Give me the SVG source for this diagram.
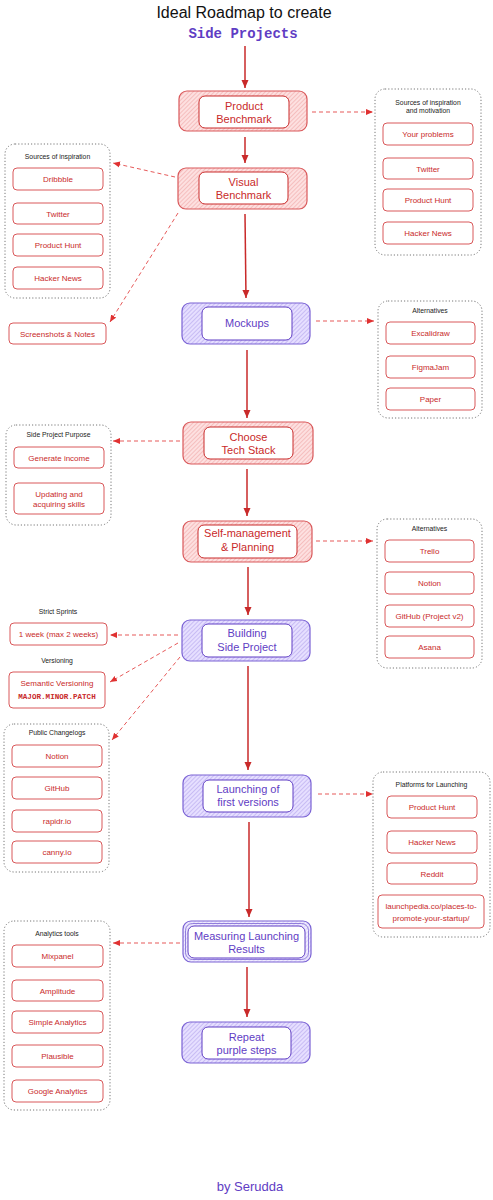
<svg xmlns="http://www.w3.org/2000/svg" width="493" height="1200" viewBox="0 0 493 1200">
<defs>
<pattern id="hatchRed" patternUnits="userSpaceOnUse" width="3" height="3" patternTransform="rotate(45)"><rect width="3" height="3" fill="#fde0e0"/><line x1="0" y1="0" x2="0" y2="3" stroke="#ec9595" stroke-width="0.9"/></pattern>
<pattern id="hatchPurple" patternUnits="userSpaceOnUse" width="3" height="3" patternTransform="rotate(45)"><rect width="3" height="3" fill="#e6dfff"/><line x1="0" y1="0" x2="0" y2="3" stroke="#a593e6" stroke-width="0.9"/></pattern>
<marker id="arr" markerUnits="userSpaceOnUse" markerWidth="9" markerHeight="9" refX="8" refY="4" orient="auto"><path d="M0,0.5 L8,4 L0,7.5 z" fill="#c92a2a"/></marker>
<marker id="arrD" markerUnits="userSpaceOnUse" markerWidth="9" markerHeight="9" refX="7" refY="3.5" orient="auto"><path d="M0,0.5 L7,3.5 L0,6.5 z" fill="#e03131"/></marker>
</defs>
<style>
text{font-family:"Liberation Sans",Arial,sans-serif;text-anchor:middle}
.title{font-size:16px;fill:#111}
.sub{font-family:"Liberation Mono","Courier New",monospace;font-size:14px;fill:#5f3dc4;font-weight:bold}
.ored{fill:url(#hatchRed);stroke:#d9585a;stroke-width:1.2}
.opur{fill:url(#hatchPurple);stroke:#7a62d4;stroke-width:1.2}
.ired{fill:#fff;stroke:#c92a2a;stroke-width:1}
.ipur{fill:#fff;stroke:#5f3dc4;stroke-width:1}
.nt{font-size:11px}
.r{fill:#c92a2a}
.p{fill:#5f3dc4}
.grp{fill:#fff;stroke:#777;stroke-width:1;stroke-dasharray:1.2 2}
.gt{font-size:6.8px;fill:#222}
.item{fill:#fff;stroke:#d9585a;stroke-width:1}
.it{font-size:8px;fill:#c92a2a}
.mono{font-family:"Liberation Mono","Courier New",monospace;font-size:7.6px;fill:#c92a2a;font-weight:bold}
.solid{stroke:#c92a2a;stroke-width:1.5;fill:none}
.dash{stroke:#e03131;stroke-opacity:0.8;stroke-width:1;stroke-dasharray:4 3;fill:none}
</style>
<rect width="493" height="1200" fill="#fff"/>
<g id="title">
<text class="title" x="244" y="18">Ideal Roadmap to create</text>
<text class="sub" x="243" y="38">Side Projects</text>
</g>
<g id="connectors">
<path class="solid" d="M245,46 L245,88" marker-end="url(#arr)"/>
<path class="solid" d="M245,137 L245,163" marker-end="url(#arr)"/>
<path class="solid" d="M245,214 L246,298" marker-end="url(#arr)"/>
<path class="solid" d="M247,350 L247,418" marker-end="url(#arr)"/>
<path class="solid" d="M247,469 L247,516" marker-end="url(#arr)"/>
<path class="solid" d="M248,567 L248,615" marker-end="url(#arr)"/>
<path class="solid" d="M248,666 L248,770" marker-end="url(#arr)"/>
<path class="solid" d="M249,822 L249,917" marker-end="url(#arr)"/>
<path class="solid" d="M247,967 L247,1017" marker-end="url(#arr)"/>
<path class="dash" d="M312,112 L373,112" marker-end="url(#arrD)"/>
<path class="dash" d="M175,177 L113,163" marker-end="url(#arrD)"/>
<path class="dash" d="M178,213 L110,322" marker-end="url(#arrD)"/>
<path class="dash" d="M316,321 L374,321" marker-end="url(#arrD)"/>
<path class="dash" d="M180,441 L113,441" marker-end="url(#arrD)"/>
<path class="dash" d="M316,541 L373,541" marker-end="url(#arrD)"/>
<path class="dash" d="M178,635 L110,635" marker-end="url(#arrD)"/>
<path class="dash" d="M178,643 L110,682" marker-end="url(#arrD)"/>
<path class="dash" d="M180,657 L112,740" marker-end="url(#arrD)"/>
<path class="dash" d="M318,794 L373,794" marker-end="url(#arrD)"/>
<path class="dash" d="M180,943 L113,943" marker-end="url(#arrD)"/>
</g>
<g id="product-benchmark">
<rect class="ored" x="179" y="91" width="128" height="40" rx="8"/>
<rect class="ired" x="199" y="96" width="90" height="32" rx="6"/>
<text class="nt r" x="244" y="110">Product</text>
<text class="nt r" x="244" y="123">Benchmark</text>
</g>
<g id="visual-benchmark">
<rect class="ored" x="178" y="168" width="129" height="41" rx="8"/>
<rect class="ired" x="199" y="172" width="89" height="32" rx="6"/>
<text class="nt r" x="243.5" y="186">Visual</text>
<text class="nt r" x="243.5" y="199">Benchmark</text>
</g>
<g id="mockups">
<rect class="opur" x="182" y="303" width="128" height="41" rx="8"/>
<rect class="ipur" x="202" y="307" width="90" height="33" rx="6"/>
<text class="nt p" x="247" y="327">Mockups</text>
</g>
<g id="choose-tech-stack">
<rect class="ored" x="183" y="422" width="130" height="42" rx="8"/>
<rect class="ired" x="204" y="427" width="89" height="32" rx="6"/>
<text class="nt r" x="248.5" y="441">Choose</text>
<text class="nt r" x="248.5" y="454">Tech Stack</text>
</g>
<g id="self-management">
<rect class="ored" x="183" y="521" width="129" height="41" rx="8"/>
<rect class="ired" x="198" y="525" width="99" height="33" rx="6"/>
<text class="nt r" x="247.5" y="537">Self-management</text>
<text class="nt r" x="247.5" y="551">&amp; Planning</text>
</g>
<g id="building">
<rect class="opur" x="182" y="620" width="128" height="41" rx="8"/>
<rect class="ipur" x="202" y="624" width="90" height="33" rx="6"/>
<text class="nt p" x="247" y="637">Building</text>
<text class="nt p" x="247" y="651">Side Project</text>
</g>
<g id="launching">
<rect class="opur" x="183" y="775" width="128" height="42" rx="8"/>
<rect class="ipur" x="203" y="780" width="90" height="32" rx="6"/>
<text class="nt p" x="248" y="793">Launching of</text>
<text class="nt p" x="248" y="806">first versions</text>
</g>
<g id="measuring">
<rect class="opur" x="183" y="921" width="128" height="41" rx="8" fill-opacity="0.6"/>
<rect x="185.5" y="923.5" width="123" height="36" rx="7" fill="none" stroke="#7a62d4" stroke-width="0.8"/>
<rect class="ipur" x="188" y="926" width="117" height="32" rx="6"/>
<text class="nt p" x="246.5" y="940">Measuring Launching</text>
<text class="nt p" x="246.5" y="953">Results</text>
</g>
<g id="repeat">
<rect class="opur" x="182" y="1022" width="128" height="41" rx="8"/>
<rect class="ipur" x="202" y="1027" width="89" height="32" rx="6"/>
<text class="nt p" x="246.5" y="1041">Repeat</text>
<text class="nt p" x="246.5" y="1054">purple steps</text>
</g>
<g id="sources-motivation">
<rect class="grp" x="375" y="89" width="106" height="166" rx="10"/>
<text class="gt" x="428" y="105">Sources of inspiration</text>
<text class="gt" x="428" y="113">and motivation</text>
<rect class="item" x="383" y="123" width="90" height="22" rx="4"/><text class="it" x="428" y="137">Your problems</text>
<rect class="item" x="383" y="158" width="90" height="21" rx="4"/><text class="it" x="428" y="171.5">Twitter</text>
<rect class="item" x="383" y="189" width="90" height="22" rx="4"/><text class="it" x="428" y="203">Product Hunt</text>
<rect class="item" x="383" y="222" width="90" height="22" rx="4"/><text class="it" x="428" y="236">Hacker News</text>
</g>
<g id="sources-inspiration">
<rect class="grp" x="5" y="144" width="105" height="154" rx="10"/>
<text class="gt" x="57.5" y="159">Sources of inspiration</text>
<rect class="item" x="13" y="168" width="90" height="22" rx="4"/><text class="it" x="58" y="182">Dribbble</text>
<rect class="item" x="13" y="203" width="90" height="21" rx="4"/><text class="it" x="58" y="216.5">Twitter</text>
<rect class="item" x="13" y="234" width="90" height="22" rx="4"/><text class="it" x="58" y="248">Product Hunt</text>
<rect class="item" x="13" y="267" width="90" height="22" rx="4"/><text class="it" x="58" y="281">Hacker News</text>
</g>
<g id="screenshots">
<rect class="item" x="9" y="323" width="97" height="21" rx="4"/><text class="it" x="57.5" y="336.5">Screenshots &amp; Notes</text>
</g>
<g id="alternatives-mockups">
<rect class="grp" x="378" y="301" width="104" height="117" rx="10"/>
<text class="gt" x="430" y="313">Alternatives</text>
<rect class="item" x="386" y="322" width="89" height="22" rx="4"/><text class="it" x="430.5" y="336">Excalidraw</text>
<rect class="item" x="386" y="356" width="89" height="22" rx="4"/><text class="it" x="430.5" y="370">FigmaJam</text>
<rect class="item" x="386" y="388" width="89" height="22" rx="4"/><text class="it" x="430.5" y="402">Paper</text>
</g>
<g id="side-project-purpose">
<rect class="grp" x="6" y="425" width="105" height="100" rx="10"/>
<text class="gt" x="58.5" y="437">Side Project Purpose</text>
<rect class="item" x="14" y="447" width="90" height="21" rx="4"/><text class="it" x="59" y="460.5">Generate income</text>
<rect class="item" x="14" y="483" width="90" height="31" rx="4"/>
<text class="it" x="59" y="497">Updating and</text>
<text class="it" x="59" y="507">acquiring skills</text>
</g>
<g id="alternatives-planning">
<rect class="grp" x="377" y="519" width="105" height="149" rx="10"/>
<text class="gt" x="429.5" y="531">Alternatives</text>
<rect class="item" x="385" y="540" width="89" height="22" rx="4"/><text class="it" x="429.5" y="554">Trello</text>
<rect class="item" x="385" y="572" width="89" height="22" rx="4"/><text class="it" x="429.5" y="586">Notion</text>
<rect class="item" x="385" y="605" width="89" height="22" rx="4"/><text class="it" x="429.5" y="619">GitHub (Project v2)</text>
<rect class="item" x="385" y="636" width="89" height="22" rx="4"/><text class="it" x="429.5" y="650">Asana</text>
</g>
<g id="strict-sprints">
<text class="gt" x="58" y="614">Strict Sprints</text>
<rect class="item" x="10" y="623" width="97" height="22" rx="4"/><text class="it" x="58.5" y="637">1 week (max 2 weeks)</text>
</g>
<g id="versioning">
<text class="gt" x="57" y="663">Versioning</text>
<rect class="item" x="9" y="672" width="96" height="36" rx="4"/>
<text class="it" x="57" y="686">Semantic Versioning</text>
<text class="mono" x="57" y="699">MAJOR.MINOR.PATCH</text>
</g>
<g id="public-changelogs">
<rect class="grp" x="4" y="724" width="105" height="148" rx="10"/>
<text class="gt" x="57" y="735">Public Changelogs</text>
<rect class="item" x="12" y="745" width="90" height="22" rx="4"/><text class="it" x="57" y="759">Notion</text>
<rect class="item" x="12" y="777" width="90" height="22" rx="4"/><text class="it" x="57" y="791">GitHub</text>
<rect class="item" x="12" y="810" width="90" height="22" rx="4"/><text class="it" x="57" y="824">rapidr.io</text>
<rect class="item" x="12" y="841" width="90" height="22" rx="4"/><text class="it" x="57" y="855">canny.io</text>
</g>
<g id="platforms">
<rect class="grp" x="373" y="772" width="117" height="165" rx="10"/>
<text class="gt" x="431.5" y="787">Platforms for Launching</text>
<rect class="item" x="387" y="796" width="90" height="22" rx="4"/><text class="it" x="432" y="810">Product Hunt</text>
<rect class="item" x="387" y="831" width="90" height="22" rx="4"/><text class="it" x="432" y="845">Hacker News</text>
<rect class="item" x="387" y="863" width="90" height="21" rx="4"/><text class="it" x="432" y="876.5">Reddit</text>
<rect class="item" x="378" y="895" width="106" height="33" rx="4"/>
<text class="it" x="431" y="909">launchpedia.co/places-to-</text>
<text class="it" x="431" y="921">promote-your-startup/</text>
</g>
<g id="analytics">
<rect class="grp" x="4" y="921" width="106" height="189" rx="10"/>
<text class="gt" x="57" y="936">Analytics tools</text>
<rect class="item" x="12" y="945" width="91" height="22" rx="4"/><text class="it" x="57.5" y="959">Mixpanel</text>
<rect class="item" x="12" y="980" width="91" height="21" rx="4"/><text class="it" x="57.5" y="993.5">Amplitude</text>
<rect class="item" x="12" y="1011" width="91" height="22" rx="4"/><text class="it" x="57.5" y="1025">Simple Analytics</text>
<rect class="item" x="12" y="1045" width="91" height="22" rx="4"/><text class="it" x="57.5" y="1059">Plausible</text>
<rect class="item" x="12" y="1080" width="91" height="22" rx="4"/><text class="it" x="57.5" y="1094">Google Analytics</text>
</g>
<g id="credit">
<text x="250" y="1191" style="font-size:13px;fill:#5f3dc4">by Serudda</text>
</g>
</svg>
